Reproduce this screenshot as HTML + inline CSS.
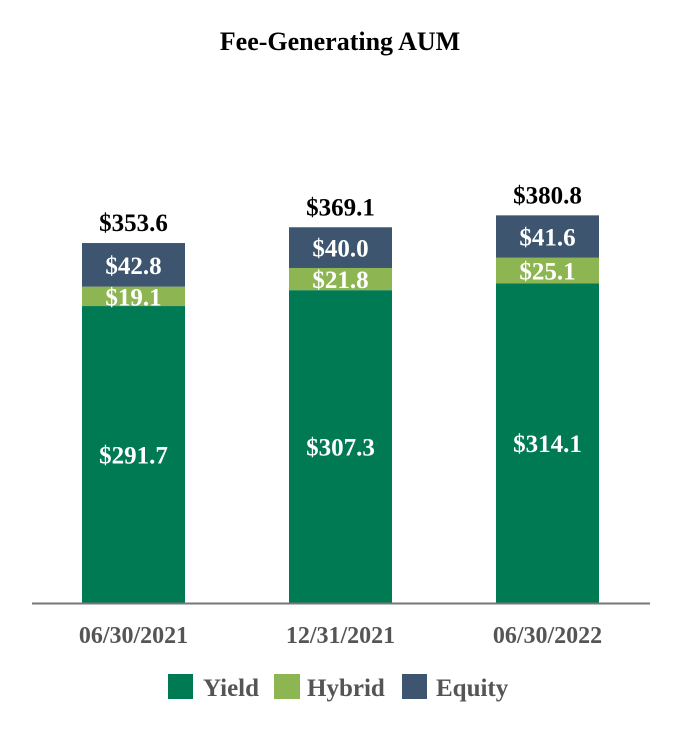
<!DOCTYPE html>
<html><head><meta charset="utf-8"><style>
body{margin:0;background:#fff;}
svg text{font-family:"Liberation Serif",serif;font-weight:bold;}
</style></head><body>
<svg width="680" height="730" id="chart">
<text x="340" y="50" text-anchor="middle" font-size="26" fill="#000">Fee-Generating AUM</text>
<g id="bars"></g>
<line x1="32" y1="603.5" x2="650" y2="603.5" stroke="#777" stroke-width="2"/>
<g>
<rect x="168" y="674" width="25" height="25" fill="#007A53"/>
<text x="203" y="696" font-size="25" fill="#555">Yield</text>
<rect x="274" y="674" width="26" height="25" fill="#8DB653"/>
<text x="307" y="696" font-size="25" fill="#555">Hybrid</text>
<rect x="402" y="674" width="25" height="25" fill="#3D556E"/>
<text x="436" y="696" font-size="25" fill="#555">Equity</text>
</g>
</svg>
<script>
const categories=["06/30/2021","12/31/2021","06/30/2022"];
const yieldVals=[291.7,307.3,314.1];
const hybridVals=[19.1,21.8,25.1];
const equityVals=[42.8,40.0,41.6];
const totals=[353.6,369.1,380.8];
const NS="http://www.w3.org/2000/svg";
const g=document.getElementById('bars');
const base=603, scale=1.018, bw=103;
function xPos(i){return 82+i*207;}
function yPos(v){return base-v*scale;}
function mk(tag,attrs){const e=document.createElementNS(NS,tag);for(const k in attrs)e.setAttribute(k,attrs[k]);g.appendChild(e);return e;}
const series=[["yield",yieldVals,"#007A53"],["hybrid",hybridVals,"#8DB653"],["equity",equityVals,"#3D556E"]];
categories.forEach((c,i)=>{
  let cum=0;const x=xPos(i);
  series.forEach(([nm,arr,col])=>{
    const v=arr[i];const y0=yPos(cum),y1=yPos(cum+v);
    const r=mk('rect',{x:x,y:y1,width:bw,height:y0-y1,fill:col});
    
    
    const t=mk('text',{x:x+bw/2,y:(y0+y1)/2+9,'text-anchor':'middle','font-size':'25',fill:'#fff'});
    t.textContent='$'+v.toFixed(1);
    
    
    cum+=v;
  });
  const tt=mk('text',{x:x+bw/2,y:yPos(totals[i])-12,'text-anchor':'middle','font-size':'25',fill:'#000'});
  tt.textContent='$'+totals[i].toFixed(1);
  
  
  const cl=mk('text',{x:x+bw/2,y:643,'text-anchor':'middle','font-size':'24',fill:'#555'});
  cl.textContent=c;
  
  
});
</script>
</body></html>
